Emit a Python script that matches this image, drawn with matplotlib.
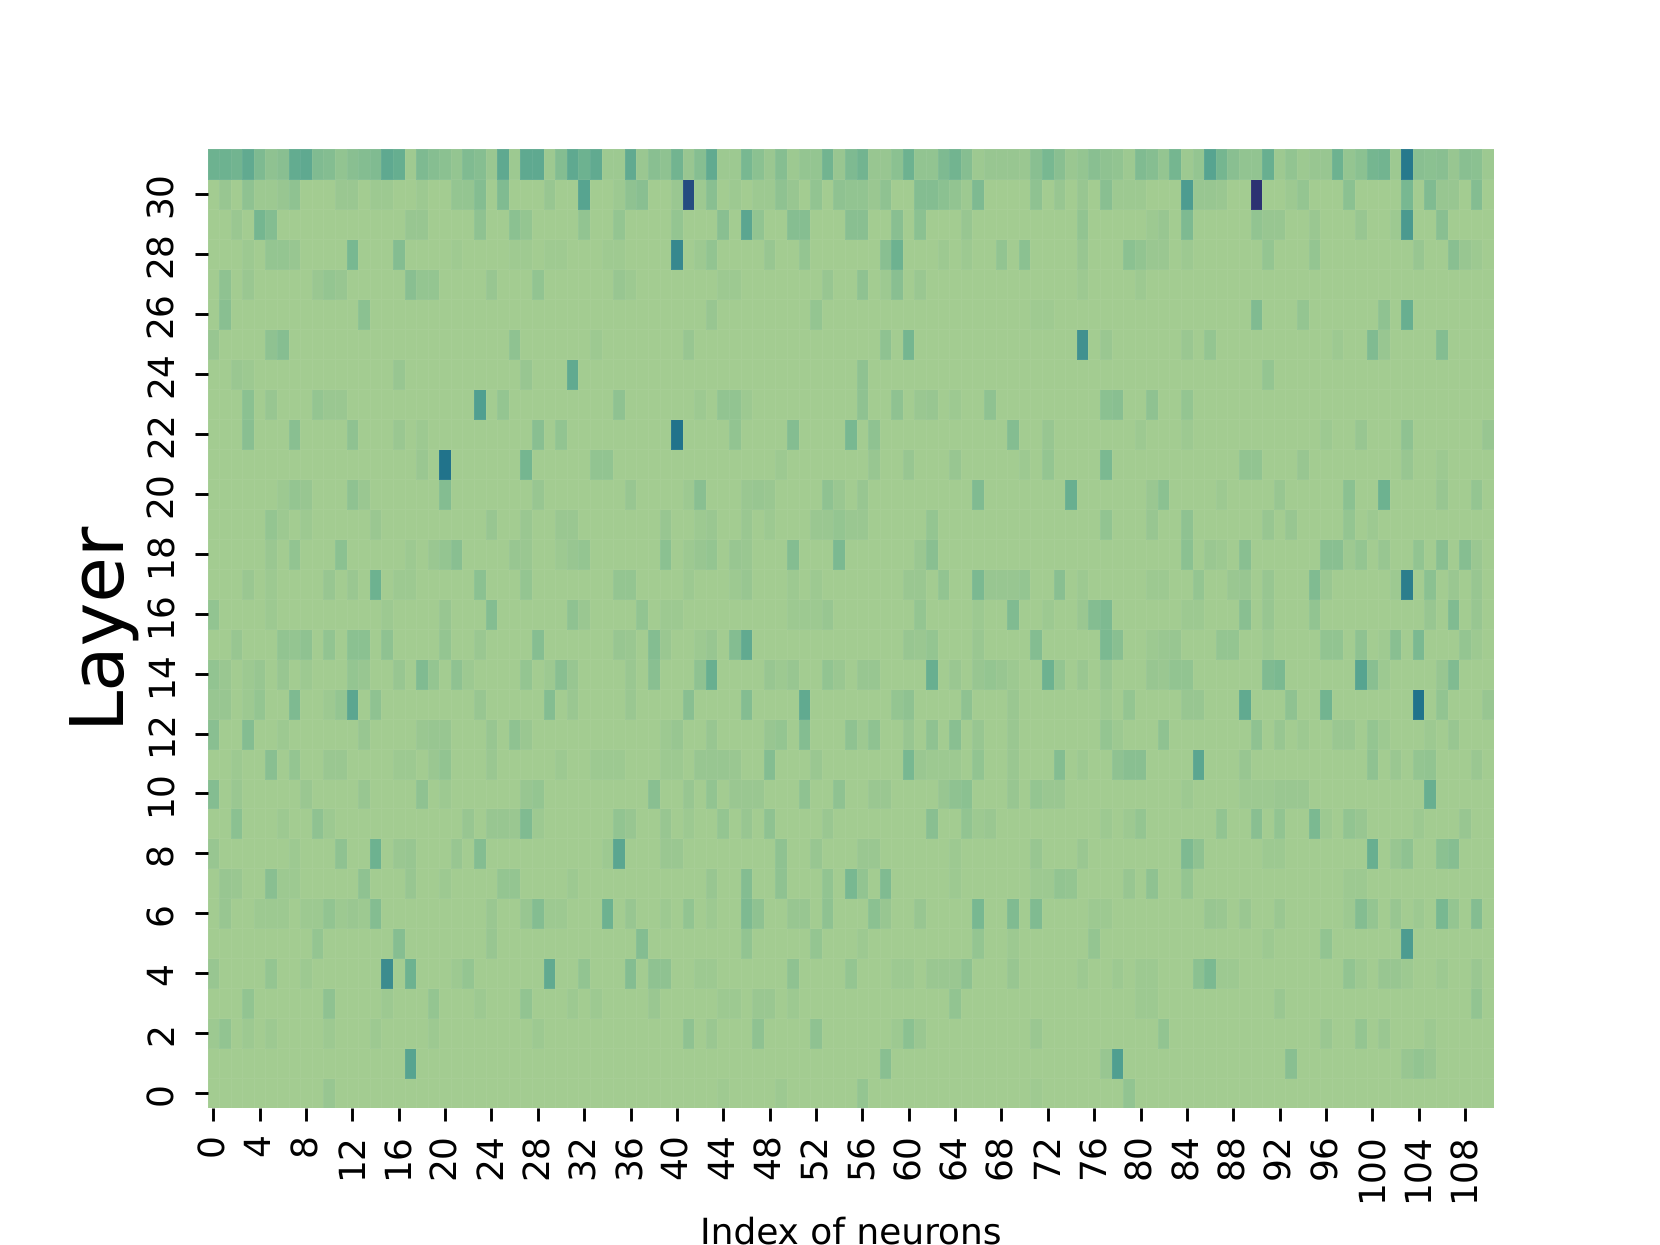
import numpy as np
import matplotlib
matplotlib.use("Agg")
import matplotlib.pyplot as plt
import seaborn as sns

plt.rcParams["text.hinting"] = "no_hinting"
plt.rcParams["text.hinting_factor"] = 1

N_LAYERS = 32
N_NEURONS = 111
BASE = 0.008

# (neuron index, activation) for the cells that stand out, layer by layer
layer_31 = [(0,.2),(1,.2),(2,.18),(3,.25),(4,.14),(5,.08),(6,.1),(7,.24),(8,.26),(9,.13),(10,.12),(11,.07),(12,.1),(13,.12),(14,.13),(15,.26),(16,.23),(17,.02),(18,.14),(19,.11),(20,.09),(21,.06),(22,.13),(23,.11),(24,.04),(25,.26),(26,.03),(27,.26),(28,.26),(29,.03),(30,.12),(31,.26),(32,.2),(33,.25),(34,.03),(35,.03),(36,.25),(37,.04),(38,.1),(39,.08),(40,.18),(41,.05),(42,.11),(43,.25),(44,.03),(45,.03),(46,.16),(47,.09),(48,.04),(49,.11),(50,.03),(51,.06),(52,.06),(53,.18),(54,.05),(55,.14),(56,.18),(57,.05),(58,.05),(59,.09),(60,.2),(61,.07),(62,.07),(63,.14),(64,.18),(65,.11),(66,.03),(67,.05),(68,.05),(69,.05),(70,.04),(71,.1),(72,.16),(73,.1),(74,.04),(75,.06),(76,.1),(77,.08),(78,.07),(79,.03),(80,.13),(81,.11),(82,.06),(83,.17),(84,.03),(85,.06),(86,.3),(87,.17),(88,.1),(89,.07),(90,.07),(91,.22),(92,.03),(93,.07),(94,.03),(95,.05),(96,.05),(97,.2),(98,.06),(99,.09),(100,.17),(101,.18),(102,.03),(103,.58),(104,.1),(105,.09),(106,.1),(107,.05),(108,.1),(109,.09),(110,.03)]
layer_30 = [(1,.05),(3,.08),(4,.03),(5,.03),(6,.05),(7,.08),(11,.04),(12,.04),(14,.03),(15,.03),(18,.03),(21,.06),(22,.06),(23,.12),(25,.13),(29,.05),(32,.3),(35,.03),(36,.08),(37,.1),(40,.04),(41,.85),(42,.03),(43,.1),(45,.03),(47,.03),(48,.03),(49,.08),(50,.05),(52,.07),(54,.08),(55,.07),(56,.07),(57,.04),(58,.08),(61,.12),(62,.12),(63,.09),(64,.07),(65,.03),(66,.14),(71,.08),(73,.05),(75,.05),(77,.1),(78,.03),(79,.03),(80,.03),(84,.35),(85,.05),(86,.05),(87,.04),(90,1.0),(93,.03),(94,.06),(98,.09),(103,.16),(105,.13),(106,.05),(107,.05),(109,.12)]
layer_29 = [(2,.04),(4,.17),(5,.12),(17,.05),(18,.05),(23,.08),(26,.09),(27,.06),(32,.07),(35,.06),(40,.06),(44,.1),(46,.28),(47,.07),(50,.11),(51,.11),(55,.1),(56,.1),(59,.1),(61,.09),(65,.05),(75,.07),(81,.03),(82,.05),(84,.14),(90,.07),(91,.05),(92,.05),(95,.04),(99,.05),(102,.03),(103,.36),(106,.1)]
layer_28 = [(3,.03),(5,.06),(6,.06),(7,.05),(12,.16),(16,.12),(21,.02),(26,.02),(27,.02),(29,.02),(30,.02),(34,.02),(35,.02),(40,.48),(42,.03),(43,.07),(48,.05),(51,.06),(58,.1),(59,.2),(63,.03),(65,.03),(68,.07),(70,.09),(75,.05),(79,.09),(80,.07),(81,.04),(82,.04),(84,.03),(91,.06),(95,.06),(104,.05),(107,.1),(108,.05),(109,.03)]
layer_27 = [(1,.08),(3,.04),(9,.04),(10,.06),(11,.05),(17,.1),(18,.06),(19,.06),(24,.05),(28,.07),(35,.05),(36,.03),(44,.03),(45,.03),(53,.05),(56,.08),(58,.03),(59,.1),(61,.04),(75,.03),(80,.03)]
layer_26 = [(1,.1),(13,.09),(43,.05),(52,.06),(71,.02),(72,.02),(90,.13),(94,.06),(101,.08),(103,.22)]
layer_25 = [(0,.05),(5,.08),(6,.11),(26,.08),(33,.03),(41,.05),(58,.08),(60,.17),(75,.42),(77,.04),(84,.04),(86,.06),(97,.03),(100,.13),(101,.05),(106,.12)]
layer_24 = [(2,.04),(3,.03),(16,.05),(27,.05),(31,.25),(56,.08),(91,.06)]
layer_23 = [(3,.09),(5,.05),(9,.06),(10,.04),(11,.04),(23,.33),(25,.06),(35,.08),(42,.03),(44,.07),(45,.07),(46,.03),(56,.08),(59,.08),(61,.04),(62,.05),(64,.03),(67,.08),(77,.09),(78,.1),(81,.08),(84,.06)]
layer_22 = [(3,.1),(7,.1),(12,.08),(16,.04),(18,.03),(28,.1),(30,.07),(40,.62),(45,.07),(50,.12),(55,.16),(57,.08),(69,.12),(72,.05),(80,.03),(84,.03),(96,.03),(99,.05),(103,.08),(110,.05)]
layer_21 = [(18,.04),(20,.62),(27,.17),(33,.07),(34,.07),(49,.03),(57,.05),(60,.05),(64,.05),(70,.03),(72,.06),(77,.15),(89,.07),(90,.07),(94,.05),(103,.05),(106,.03)]
layer_20 = [(6,.03),(7,.06),(8,.05),(12,.08),(13,.04),(20,.12),(28,.05),(36,.05),(41,.03),(42,.1),(46,.04),(47,.05),(48,.04),(53,.08),(54,.04),(56,.05),(66,.13),(74,.22),(81,.04),(82,.09),(87,.03),(92,.05),(98,.09),(101,.2),(106,.05),(109,.06)]
layer_19 = [(5,.06),(6,.03),(8,.03),(14,.04),(24,.05),(27,.04),(30,.04),(31,.04),(39,.05),(42,.03),(43,.04),(46,.04),(48,.03),(52,.04),(53,.04),(54,.06),(55,.04),(56,.04),(62,.06),(77,.07),(81,.05),(84,.08),(91,.05),(93,.05),(98,.06),(100,.03)]
layer_18 = [(5,.04),(7,.07),(11,.09),(17,.03),(19,.04),(20,.06),(21,.1),(26,.05),(27,.04),(30,.03),(31,.05),(32,.06),(39,.09),(41,.03),(42,.05),(43,.06),(45,.05),(46,.04),(50,.12),(54,.15),(61,.04),(62,.1),(84,.09),(86,.04),(87,.03),(89,.1),(96,.1),(97,.1),(98,.03),(99,.06),(101,.05),(104,.07),(106,.1),(108,.11),(109,.04)]
layer_17 = [(3,.04),(5,.03),(10,.05),(12,.04),(14,.2),(16,.03),(17,.03),(23,.09),(27,.06),(35,.06),(36,.06),(41,.03),(45,.03),(46,.05),(50,.03),(52,.03),(60,.04),(61,.04),(63,.07),(66,.15),(67,.05),(68,.05),(69,.05),(70,.06),(73,.1),(75,.03),(81,.03),(82,.03),(85,.06),(88,.04),(89,.05),(91,.05),(95,.13),(96,.04),(102,.03),(103,.55),(105,.09),(107,.04),(109,.05)]
layer_16 = [(0,.07),(5,.03),(15,.03),(20,.05),(24,.12),(31,.08),(32,.04),(37,.07),(39,.03),(40,.03),(50,.03),(51,.03),(52,.03),(53,.05),(61,.06),(66,.03),(69,.13),(72,.03),(75,.04),(76,.12),(77,.14),(84,.03),(85,.03),(89,.1),(91,.05),(95,.07),(105,.05),(107,.13),(109,.05)]
layer_15 = [(2,.05),(6,.07),(7,.06),(8,.08),(10,.07),(12,.09),(13,.09),(15,.08),(20,.06),(23,.04),(28,.11),(35,.05),(36,.04),(38,.12),(39,.04),(42,.03),(43,.05),(45,.12),(46,.25),(60,.05),(61,.04),(62,.06),(66,.04),(71,.12),(77,.15),(78,.1),(81,.03),(82,.04),(83,.05),(87,.06),(88,.06),(91,.03),(96,.07),(97,.07),(99,.08),(101,.02),(102,.1),(104,.15),(108,.06),(109,.03)]
layer_14 = [(0,.07),(1,.04),(3,.03),(4,.05),(6,.05),(8,.03),(12,.06),(13,.05),(16,.05),(18,.13),(19,.06),(21,.08),(22,.03),(27,.06),(29,.03),(30,.1),(31,.05),(36,.04),(38,.1),(42,.08),(43,.22),(48,.05),(49,.03),(50,.05),(53,.07),(54,.04),(56,.05),(57,.05),(62,.22),(64,.04),(66,.05),(67,.06),(68,.05),(69,.03),(72,.2),(73,.06),(75,.04),(77,.05),(81,.05),(82,.04),(83,.07),(84,.07),(91,.13),(92,.15),(99,.3),(100,.1),(101,.03),(106,.05),(107,.13)]
layer_13 = [(0,.05),(1,.05),(3,.03),(4,.06),(7,.14),(10,.03),(11,.06),(12,.28),(14,.08),(23,.05),(29,.12),(31,.04),(36,.04),(41,.1),(46,.12),(51,.25),(59,.06),(60,.08),(65,.08),(69,.04),(77,.03),(79,.06),(84,.05),(85,.05),(89,.25),(93,.08),(96,.18),(104,.62),(106,.07),(110,.05)]
layer_12 = [(0,.1),(3,.12),(6,.03),(13,.05),(18,.04),(19,.05),(20,.05),(24,.05),(26,.08),(27,.04),(39,.03),(40,.05),(43,.05),(48,.05),(49,.06),(51,.12),(55,.08),(56,.03),(57,.08),(60,.05),(62,.08),(64,.1),(66,.05),(69,.04),(77,.06),(78,.03),(82,.08),(90,.08),(92,.05),(94,.03),(97,.04),(98,.04),(100,.06),(101,.03),(105,.03),(107,.05)]
layer_11 = [(2,.03),(5,.1),(7,.06),(10,.04),(11,.04),(16,.03),(17,.03),(19,.04),(20,.07),(24,.04),(30,.03),(33,.03),(34,.03),(35,.03),(39,.03),(40,.03),(42,.05),(43,.05),(44,.05),(45,.04),(48,.12),(52,.04),(60,.16),(61,.04),(62,.03),(63,.03),(64,.03),(66,.07),(69,.04),(73,.12),(75,.03),(78,.08),(79,.1),(80,.1),(85,.28),(89,.05),(100,.08),(102,.04),(104,.06),(105,.07),(109,.04)]
layer_10 = [(0,.12),(2,.04),(8,.04),(13,.05),(18,.08),(20,.03),(27,.05),(28,.06),(38,.1),(41,.05),(43,.07),(45,.04),(46,.04),(47,.04),(51,.08),(54,.08),(57,.04),(58,.04),(63,.05),(64,.08),(65,.09),(69,.05),(71,.06),(72,.04),(73,.04),(84,.03),(89,.03),(90,.03),(91,.03),(92,.04),(93,.04),(94,.04),(105,.22)]
layer_9 = [(2,.09),(6,.03),(9,.08),(10,.03),(22,.05),(24,.05),(25,.05),(26,.04),(27,.13),(28,.03),(35,.07),(36,.05),(39,.05),(41,.03),(44,.06),(46,.05),(48,.08),(53,.04),(62,.1),(65,.07),(66,.03),(67,.04),(77,.03),(79,.03),(80,.06),(87,.07),(90,.1),(92,.07),(95,.15),(96,.03),(98,.07),(99,.05),(104,.03),(108,.05)]
layer_8 = [(0,.05),(7,.03),(11,.08),(14,.2),(16,.04),(17,.05),(21,.05),(23,.12),(34,.03),(35,.28),(39,.04),(40,.04),(49,.08),(52,.05),(56,.04),(57,.04),(64,.03),(71,.05),(75,.04),(84,.14),(85,.08),(91,.03),(92,.03),(100,.22),(102,.05),(103,.08),(106,.09),(107,.11)]
layer_7 = [(1,.05),(2,.04),(5,.1),(6,.03),(7,.03),(13,.08),(17,.05),(20,.03),(25,.06),(26,.06),(31,.03),(43,.05),(46,.12),(49,.08),(53,.07),(55,.16),(56,.07),(58,.13),(64,.03),(71,.03),(72,.03),(73,.07),(74,.06),(79,.05),(81,.08),(84,.06),(98,.03),(99,.03)]
layer_6 = [(1,.05),(4,.03),(5,.03),(6,.03),(8,.03),(9,.03),(10,.07),(11,.03),(12,.04),(13,.03),(14,.12),(24,.04),(27,.05),(28,.12),(29,.03),(30,.03),(34,.2),(36,.05),(39,.03),(41,.07),(43,.03),(46,.14),(47,.08),(50,.05),(51,.05),(53,.08),(57,.09),(58,.05),(61,.05),(66,.16),(69,.13),(71,.13),(76,.03),(77,.03),(86,.05),(87,.04),(89,.04),(92,.04),(98,.03),(99,.12),(100,.06),(102,.05),(104,.03),(106,.16),(107,.06),(109,.12)]
layer_5 = [(9,.06),(16,.11),(24,.05),(37,.12),(46,.07),(52,.06),(56,.03),(66,.06),(69,.03),(76,.06),(91,.03),(96,.07),(103,.35)]
layer_4 = [(0,.05),(5,.06),(8,.03),(15,.45),(17,.2),(21,.03),(22,.06),(29,.25),(32,.07),(36,.12),(38,.08),(39,.08),(42,.03),(43,.03),(50,.08),(55,.06),(59,.03),(60,.03),(62,.04),(63,.04),(64,.04),(65,.08),(69,.05),(75,.03),(78,.03),(80,.03),(81,.03),(85,.09),(86,.15),(87,.03),(88,.03),(98,.07),(99,.03),(101,.05),(102,.05),(103,.03),(106,.03),(109,.04)]
layer_3 = [(3,.07),(10,.08),(15,.03),(19,.06),(23,.03),(27,.07),(31,.03),(33,.03),(38,.04),(44,.03),(45,.03),(47,.04),(48,.04),(50,.03),(64,.07),(80,.03),(81,.03),(92,.04),(109,.07)]
layer_2 = [(0,.03),(1,.07),(3,.03),(5,.03),(10,.03),(14,.03),(19,.03),(28,.03),(41,.08),(43,.04),(47,.08),(52,.08),(59,.03),(60,.09),(61,.04),(71,.04),(82,.07),(96,.04),(99,.06),(101,.04),(105,.03)]
layer_1 = [(17,.3),(58,.1),(77,.05),(78,.33),(93,.1),(103,.05),(104,.07),(105,.05)]
layer_0 = [(10,.05),(44,.02),(49,.03),(56,.06),(71,.02),(79,.07)]

layers = [layer_0, layer_1, layer_2, layer_3, layer_4, layer_5, layer_6, layer_7,
          layer_8, layer_9, layer_10, layer_11, layer_12, layer_13, layer_14, layer_15,
          layer_16, layer_17, layer_18, layer_19, layer_20, layer_21, layer_22, layer_23,
          layer_24, layer_25, layer_26, layer_27, layer_28, layer_29, layer_30, layer_31]

matrix = np.full((N_LAYERS, N_NEURONS), BASE)
for r, cells in enumerate(layers):
    for c, v in cells:
        matrix[r, c] = v

fig, ax = plt.subplots(figsize=(6.4, 4.8), dpi=259.375)
sns.heatmap(matrix, cmap="crest", vmin=0, vmax=1, cbar=False, ax=ax,
            xticklabels=4, yticklabels=2,
            linewidths=0.2, linecolor=(1, 1, 1, 0.05))
ax.invert_yaxis()
ax.tick_params(axis="x", labelrotation=90)
ax.tick_params(axis="y", labelrotation=90, pad=4.3)
for t in ax.get_yticklabels():
    t.set_va("center")
ax.set_xlabel("Index of neurons", fontsize=10)
ax.set_ylabel("Layer", fontsize=20.5)
ax.yaxis.set_label_coords(-0.058, 0.508)
fig.savefig("out.png")
